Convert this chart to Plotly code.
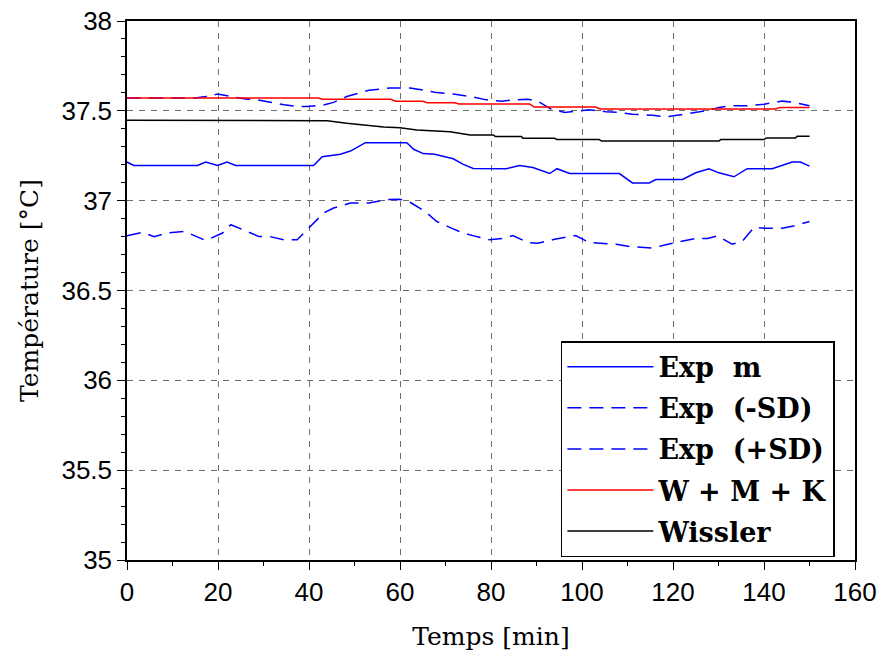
import plotly.graph_objects as go

# ---- data (time in min, temperature in °C) ----
exp_m_t = [0, 1.5, 15.5, 17.3, 19.9, 22, 23.9, 41, 42.9, 46.9, 49.1, 52.4, 61.5, 63, 65.1, 67.6,
           71.7, 73.9, 76.1, 83.4, 86.3, 89.2, 92.9, 94.5, 97.3, 108.2, 111.1, 114.8, 116.2,
           122.1, 125, 127.9, 130.1, 133.4, 136.3, 141.8, 146.2, 148, 150]
exp_m_v = [37.215, 37.196, 37.196, 37.215, 37.196, 37.215, 37.196, 37.196, 37.245, 37.258,
           37.276, 37.323, 37.323, 37.286, 37.262, 37.258, 37.233, 37.202, 37.179, 37.178,
           37.196, 37.185, 37.151, 37.178, 37.151, 37.151, 37.099, 37.099, 37.118, 37.118,
           37.155, 37.178, 37.155, 37.133, 37.178, 37.178, 37.215, 37.215, 37.192]

exp_minus_t = [0, 3.3, 6, 8.9, 12.6, 15.1, 17.3, 21, 22.8, 26.4, 29, 31.4, 34.5, 37.4, 39.6,
               43.2, 45.4, 49.1, 53.2, 57.1, 60, 62.2, 65.5, 68.1, 71.3, 73.9, 76.8, 79.7,
               82.7, 84.8, 88.1, 90.3, 94, 96.9, 98.6, 101.6, 104.9, 107.5, 110.4, 115.5,
               118.4, 122.1, 125, 127.6, 129.8, 133, 135.2, 137.8, 140, 144, 146.2, 150]
exp_minus_v = [36.804, 36.823, 36.8, 36.82, 36.829, 36.8, 36.778, 36.82, 36.866, 36.829, 36.8,
               36.8, 36.782, 36.782, 36.838, 36.931, 36.959, 36.987, 36.987, 37.006, 37.008,
               36.991, 36.94, 36.884, 36.847, 36.82, 36.8, 36.782, 36.79, 36.806, 36.767,
               36.763, 36.785, 36.8, 36.806, 36.767, 36.763, 36.757, 36.745, 36.736, 36.755,
               36.773, 36.79, 36.79, 36.804, 36.758, 36.773, 36.851, 36.847, 36.847, 36.857,
               36.884]

exp_plus_t = [0, 15, 17.3, 19.9, 22.8, 26.4, 28.6, 31.5, 34.5, 37.4, 39.6, 43.2, 45.4, 48.3,
              51.3, 53.2, 57.8, 62.2, 65.1, 67.6, 71.7, 75.4, 79, 82.3, 84.8, 88.1, 90.3,
              93.2, 96.2, 99.5, 101.6, 105.3, 108.2, 111.1, 115.5, 118.4, 122.1, 125, 127.9,
              130.1, 133, 136.7, 140, 144, 146.5, 150]
exp_plus_v = [37.571, 37.571, 37.58, 37.593, 37.58, 37.565, 37.562, 37.547, 37.534, 37.524,
              37.524, 37.532, 37.547, 37.58, 37.603, 37.615, 37.627, 37.627, 37.615, 37.603,
              37.593, 37.58, 37.561, 37.554, 37.56, 37.565, 37.554, 37.51, 37.491, 37.5,
              37.506, 37.495, 37.491, 37.481, 37.476, 37.466, 37.481, 37.491, 37.503, 37.519,
              37.528, 37.528, 37.537, 37.554, 37.548, 37.528]

wmk_t = [0, 42, 43, 58, 59, 65, 66, 72, 73, 88.5, 89.5, 103, 104, 142.5, 143.5, 150]
wmk_v = [37.571, 37.571, 37.564, 37.564, 37.553, 37.553, 37.545, 37.545, 37.538, 37.538,
         37.521, 37.521, 37.51, 37.51, 37.519, 37.519]

wissler_t = [0, 42.5, 44, 48.3, 52.7, 56.4, 60, 63.7, 71, 75.4, 80.5, 81, 86.7, 87, 94, 94.5,
             103.8, 104.3, 130.1, 130.5, 140, 140.5, 146.9, 147.3, 150]
wissler_v = [37.448, 37.448, 37.445, 37.431, 37.42, 37.41, 37.406, 37.394, 37.383, 37.366,
             37.366, 37.357, 37.357, 37.347, 37.347, 37.34, 37.34, 37.332, 37.332, 37.34,
             37.34, 37.349, 37.349, 37.358, 37.358]

names = ["Exp\u00a0\u00a0m", "Exp\u00a0\u00a0(-SD)", "Exp\u00a0\u00a0(+SD)", "W + M + K", "Wissler"]
x_ticks = [0, 20, 40, 60, 80, 100, 120, 140, 160]
y_ticks = [35, 35.5, 36, 36.5, 37, 37.5, 38]
y_tick_text = ["35", "35.5", "36", "36.5", "37", "37.5", "38"]

series = [
    (exp_m_t, exp_m_v, "#0000ff", "solid"),
    (exp_minus_t, exp_minus_v, "#0000ff", "14px,8px"),
    (exp_plus_t, exp_plus_v, "#0000ff", "14px,8px"),
    (wmk_t, wmk_v, "#ff0000", "solid"),
    (wissler_t, wissler_v, "#000000", "solid"),
]

fig = go.Figure()
for i, (t, v, c, d) in enumerate(series):
    fig.add_trace(go.Scatter(x=t, y=v, mode="lines", name=names[i], legendgroup=f"g{i}",
                             line=dict(color=c, width=1.5, dash=d)))

axis_common = dict(
    automargin=False, ticklabeloverflow="allow",
    showline=True, linecolor="black", linewidth=1.5, mirror=True,
    showgrid=True, gridcolor="rgb(110,110,110)", gridwidth=1.2, griddash="6px,6px",
    zeroline=False, ticks="outside", ticklen=8, tickwidth=1.2, tickcolor="black",
    tickfont=dict(family="Liberation Sans, Arial, sans-serif", size=26, color="black"),
)

fig.update_xaxes(range=[0, 160], tickvals=x_ticks, ticktext=[str(v) for v in x_ticks],
                 minor=dict(dtick=10, tick0=0, ticks="outside", ticklen=4, tickcolor="black", showgrid=False),
                 title=dict(text="Temps [min]", standoff=22,
                            font=dict(family="DejaVu Serif, serif", size=25, color="black")),
                 **axis_common)
fig.update_yaxes(range=[35, 38], tickvals=y_ticks, ticktext=y_tick_text,
                 minor=dict(dtick=0.1, tick0=35, ticks="outside", ticklen=4, tickcolor="black", showgrid=False),
                 title=dict(text="Température [°C]", standoff=16,
                            font=dict(family="DejaVu Serif, serif", size=25, color="black")),
                 **axis_common)

fig.update_layout(
    width=881, height=655,
    margin=dict(l=127, r=26, t=21, b=95),
    paper_bgcolor="white", plot_bgcolor="white",
    showlegend=True,
    legend=dict(x=0.596, y=0.406, xanchor="left", yanchor="top",
                bgcolor="white", bordercolor="black", borderwidth=1.5,
                font=dict(family="DejaVu Serif, serif", size=27, color="black", weight="bold"),
                tracegroupgap=3, itemwidth=86),
)

fig.write_html("out.html",
               config={"displayModeBar": False},
               post_script="document.body.style.margin='0px';"
                           "document.documentElement.style.overflow='hidden';")
